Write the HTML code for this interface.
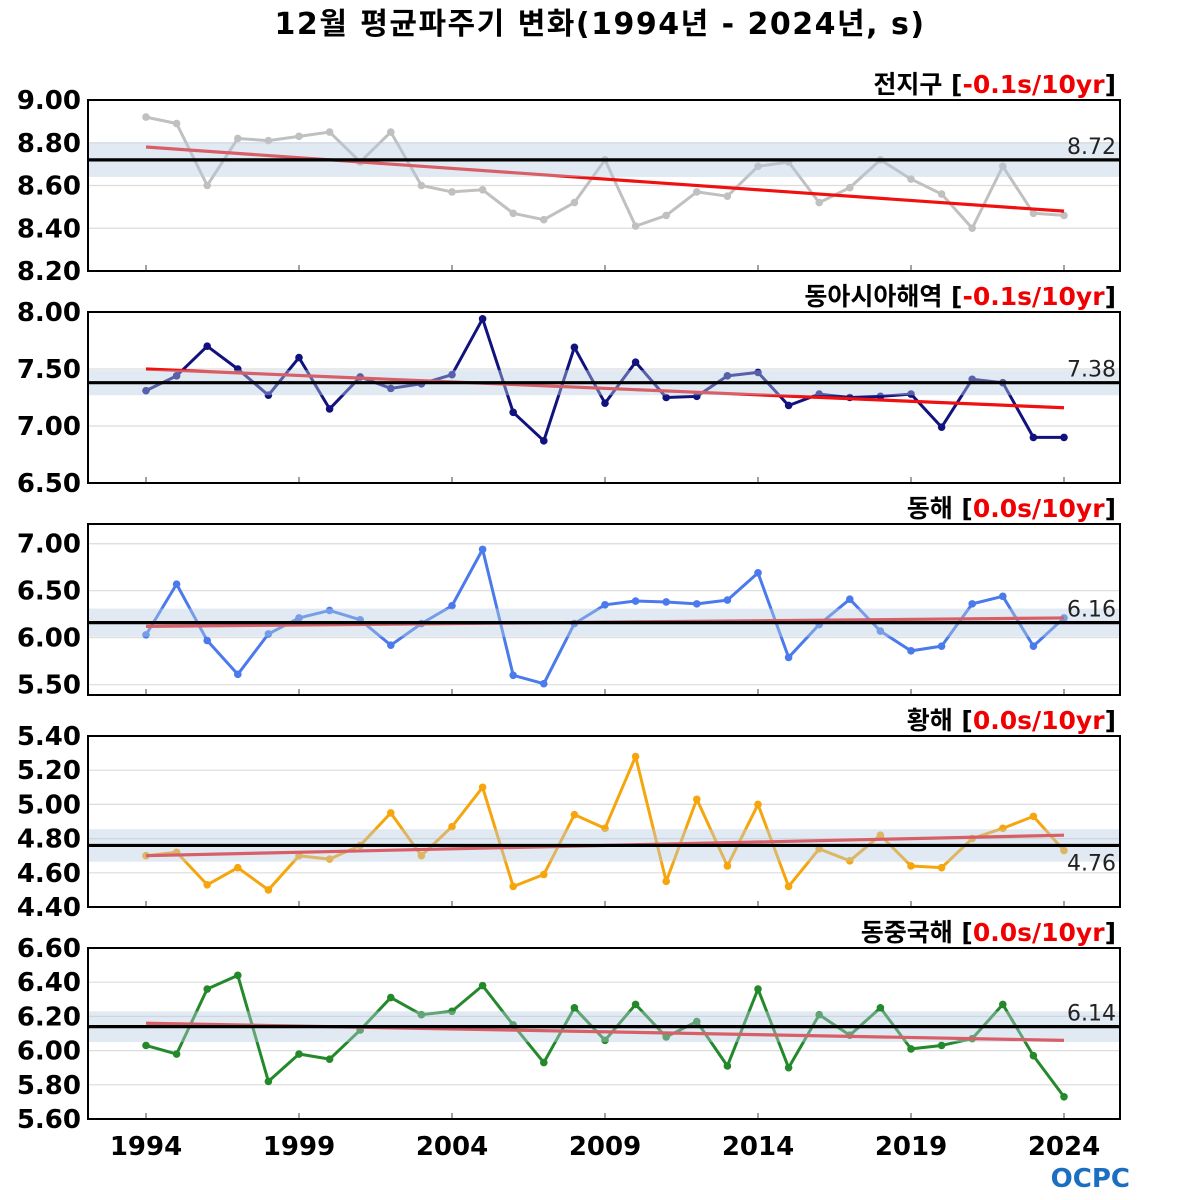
<!DOCTYPE html>
<html><head><meta charset="utf-8"><style>
body{margin:0;background:#fff;}
svg{display:block;font-family:"DejaVu Sans","Noto Sans CJK KR",sans-serif;}
</style></head><body>
<svg id="chart" width="1200" height="1200" viewBox="0 0 1200 1200">
<text x="600" y="34" text-anchor="middle" font-size="30" font-weight="bold" letter-spacing="1.5">12월 평균파주기 변화(1994년 - 2024년, s)</text>
<g id="plots"></g>
<text x="1130" y="1187" text-anchor="end" font-size="26" font-weight="bold" fill="#1a6fc0">OCPC</text>
</svg>
<script>
const years = [1994,1995,1996,1997,1998,1999,2000,2001,2002,2003,2004,2005,2006,2007,2008,2009,2010,2011,2012,2013,2014,2015,2016,2017,2018,2019,2020,2021,2022,2023,2024];
const xTicks = [1994,1999,2004,2009,2014,2019,2024];
const panelNames = ["전지구","동아시아해역","동해","황해","동중국해"];
const trendLabels = ["-0.1s/10yr","-0.1s/10yr","0.0s/10yr","0.0s/10yr","0.0s/10yr"];
const means = [8.72,7.38,6.16,4.76,6.14];
const bandHalf = [0.08,0.11,0.15,0.095,0.09];
const trendStart = [8.78,7.50,6.12,4.70,6.16];
const trendEnd = [8.48,7.16,6.21,4.82,6.06];
const yMins = [8.2,6.5,5.39,4.4,5.6];
const yMaxs = [9.0,8.0,7.21,5.4,6.6];
const yTicks0 = [8.2,8.4,8.6,8.8,9.0];
const yTicks1 = [6.5,7.0,7.5,8.0];
const yTicks2 = [5.5,6.0,6.5,7.0];
const yTicks3 = [4.4,4.6,4.8,5.0,5.2,5.4];
const yTicks4 = [5.6,5.8,6.0,6.2,6.4,6.6];
const series0 = [8.92,8.89,8.60,8.82,8.81,8.83,8.85,8.71,8.85,8.60,8.57,8.58,8.47,8.44,8.52,8.72,8.41,8.46,8.57,8.55,8.69,8.71,8.52,8.59,8.72,8.63,8.56,8.40,8.69,8.47,8.46];
const series1 = [7.31,7.44,7.70,7.50,7.27,7.60,7.15,7.43,7.33,7.37,7.45,7.94,7.12,6.87,7.69,7.20,7.56,7.25,7.26,7.44,7.47,7.18,7.28,7.25,7.26,7.28,6.99,7.41,7.38,6.90,6.90];
const series2 = [6.03,6.57,5.97,5.61,6.04,6.21,6.29,6.19,5.92,6.15,6.34,6.94,5.60,5.51,6.15,6.35,6.39,6.38,6.36,6.40,6.69,5.79,6.14,6.41,6.07,5.86,5.91,6.36,6.44,5.91,6.21];
const series3 = [4.70,4.72,4.53,4.63,4.50,4.70,4.68,4.76,4.95,4.70,4.87,5.10,4.52,4.59,4.94,4.86,5.28,4.55,5.03,4.64,5.00,4.52,4.74,4.67,4.82,4.64,4.63,4.80,4.86,4.93,4.73];
const series4 = [6.03,5.98,6.36,6.44,5.82,5.98,5.95,6.12,6.31,6.21,6.23,6.38,6.15,5.93,6.25,6.06,6.27,6.08,6.17,5.91,6.36,5.90,6.21,6.09,6.25,6.01,6.03,6.07,6.27,5.97,5.73];

const allSeries=[series0,series1,series2,series3,series4];
const allTicks=[yTicks0,yTicks1,yTicks2,yTicks3,yTicks4];
const colors=["#c0c0c0","#12127e","#4a7aeb","#f6a60c","#23892a"];
const panelTops=[100,312,524,736,948];
const panelH=171, X0=88, X1=1120;
const NS="http://www.w3.org/2000/svg";
const root=document.getElementById('plots');
function mk(tag,attrs,parent){const e=document.createElementNS(NS,tag);for(const k in attrs)e.setAttribute(k,attrs[k]);(parent||root).appendChild(e);return e;}
const xs=y=>146+(y-1994)*(1064-146)/30;

for(let p=0;p<5;p++){
  const top=panelTops[p], bot=top+panelH;
  const ys=v=>bot-(v-yMins[p])/(yMaxs[p]-yMins[p])*panelH;
  const g=mk('g',{});
  
  
  allTicks[p].forEach(t=>{
    const y=ys(t);
    const gl=mk('line',{x1:X0,x2:X1,y1:y,y2:y,stroke:'#dcdcdc','stroke-width':1.2},g);
    
    
    const tl=mk('text',{x:81,y:y+9,'text-anchor':'end','font-size':26,'font-weight':'bold'},g);
    tl.textContent=t.toFixed(2);
    
    
  });
  xTicks.forEach(t=>{
    const tk=mk('line',{x1:xs(t),x2:xs(t),y1:bot,y2:bot-6,stroke:'#444','stroke-width':1},g);
    
    
  });
  const d=allSeries[p];
  const pl=mk('polyline',{points:d.map((v,i)=>xs(years[i])+','+ys(v)).join(' '),fill:'none',stroke:colors[p],'stroke-width':3,'stroke-linejoin':'round'},g);
  
  
  d.forEach((v,i)=>{
    const c=mk('circle',{cx:xs(years[i]),cy:ys(v),r:3.8,fill:colors[p]},g);
    
    
  });
  const tr=mk('line',{x1:xs(1994),x2:xs(2024),y1:ys(trendStart[p]),y2:ys(trendEnd[p]),stroke:'#f01010','stroke-width':3.2},g);
  
  
  const b1=ys(means[p]+bandHalf[p]), b2=ys(means[p]-bandHalf[p]);
  const band=mk('rect',{x:X0,y:b1,width:X1-X0,height:b2-b1,fill:'#b8cce2','fill-opacity':0.42},g);
  
  
  const ml=mk('line',{x1:X0,x2:X1,y1:ys(means[p]),y2:ys(means[p]),stroke:'#000','stroke-width':3.2},g);
  
  
  const mt=mk('text',{x:1116,y:p===3?ys(means[p])+25:ys(means[p])-6,'text-anchor':'end','font-size':22,fill:'#222'},g);
  mt.textContent=means[p].toFixed(2);
  
  
  const fr=mk('rect',{x:X0,y:top,width:X1-X0,height:panelH,fill:'none',stroke:'#000','stroke-width':2},g);
  
  
  const pt=mk('text',{x:1116,y:top-7,'text-anchor':'end','font-size':25,'font-weight':'bold'},g);
  
  
  const s1=mk('tspan',{},pt); s1.textContent=panelNames[p]+' [';
  const s2=mk('tspan',{fill:'#f00000'},pt); s2.textContent=trendLabels[p];
  const s3=mk('tspan',{},pt); s3.textContent=']';
}
xTicks.forEach(t=>{
  const tl=mk('text',{x:xs(t),y:1155,'text-anchor':'middle','font-size':26,'font-weight':'bold'});
  tl.textContent=t;
  
  
});
</script>
</body></html>
